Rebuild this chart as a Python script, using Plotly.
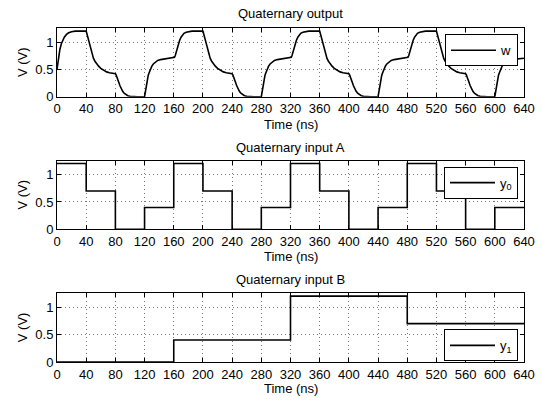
import plotly.graph_objects as go

# ---------------- data ----------------
# Quaternary output w: transition shapes (time offset in ns within a 40 ns slot, value in V)
r0_dt = [0, 1, 2, 3, 4, 6, 8, 10, 13, 16, 20, 25, 40]
r0_v  = [0.5, 0.62, 0.72, 0.80, 0.87, 0.97, 1.04, 1.09, 1.14, 1.17, 1.19, 1.2, 1.2]

f1_dt = [0, 1, 2, 3, 4, 5, 6, 8, 10, 12, 14, 17, 20, 24, 28, 32, 36, 40]
f1_v  = [1.2, 1.15, 1.08, 1.01, 0.95, 0.90, 0.85, 0.77, 0.70, 0.65, 0.61, 0.56, 0.52, 0.48, 0.455, 0.44, 0.425, 0.42]

f2_dt = [0, 1, 2, 3, 4, 5, 6, 8, 10, 12, 14, 17, 20, 25, 30, 40]
f2_v  = [0.42, 0.40, 0.37, 0.33, 0.29, 0.25, 0.21, 0.15, 0.10, 0.065, 0.04, 0.02, 0.008, 0.002, 0.0, 0.0]

r1_dt = [0, 1, 2, 3, 4, 5, 6, 8, 10, 12, 15, 18, 22, 27, 33, 40]
r1_v  = [0.0, 0.09, 0.18, 0.26, 0.33, 0.39, 0.43, 0.51, 0.56, 0.60, 0.64, 0.665, 0.68, 0.69, 0.70, 0.705]

r2_dt = [0, 1, 2, 3, 4, 5, 6, 8, 10, 12, 14, 17, 20, 25, 40]
r2_v  = [0.705, 0.72, 0.75, 0.80, 0.85, 0.90, 0.95, 1.03, 1.09, 1.13, 1.16, 1.18, 1.19, 1.2, 1.2]

w_slot_start = [0, 40, 80, 120, 160, 200, 240, 280, 320, 360, 400, 440, 480, 520, 560, 600]
w_slot_kind  = ["r0", "f1", "f2", "r1", "r2", "f1", "f2", "r1", "r2", "f1", "f2", "r1", "r2", "f1", "f2", "r1"]

# Quaternary inputs (step levels at the start of each slot)
a_t = [0, 40, 80, 120, 160, 200, 240, 280, 320, 360, 400, 440, 480, 520, 560, 600, 640]
a_v = [1.2, 0.7, 0, 0.4, 1.2, 0.7, 0, 0.4, 1.2, 0.7, 0, 0.4, 1.2, 0.7, 0, 0.4, 0.4]

b_t = [0, 160, 320, 480, 640]
b_v = [0, 0.4, 1.2, 0.7, 0.7]

x_ticks = list(range(0, 641, 40))
y_ticks = [0, 0.5, 1]
y_tick_labels = ["0", "0.5", "1"]

titles = ["Quaternary output", "Quaternary input A", "Quaternary input B"]
legend_names = ["w", "y<sub>0</sub>", "y<sub>1</sub>"]

# ---------------- build w ----------------
shapes = {"r0": (r0_dt, r0_v), "f1": (f1_dt, f1_v), "f2": (f2_dt, f2_v),
          "r1": (r1_dt, r1_v), "r2": (r2_dt, r2_v)}
w_t, w_v = [], []
for s, k in zip(w_slot_start, w_slot_kind):
    dts, vs = shapes[k]
    w_t += [s + d for d in dts]
    w_v += vs

# ---------------- figure ----------------
W, H = 542, 406
L, R = 57, 18
FONT = "Liberation Sans, Arial, Helvetica, sans-serif"
FS = 13

# pixel extents (top, bottom) of each axes box
boxes = [(29, 98.7), (164, 234), (299.3, 369.3)]
title_y = [14, 150, 285]
xlabel_y = [126.5, 261.5, 396.5]
legend_tops = [35, 170, 336]

fig = go.Figure()
series = [(w_t, w_v, "linear"), (a_t, a_v, "hv"), (b_t, b_v, "hv")]
for i, (xs, ys, shp) in enumerate(series):
    sfx = "" if i == 0 else str(i + 1)
    fig.add_trace(go.Scatter(
        x=xs, y=ys, mode="lines", name=legend_names[i],
        line=dict(color="black", width=1.6, shape=shp),
        xaxis="x" + sfx, yaxis="y" + sfx,
        legend="legend" + sfx, showlegend=True, hoverinfo="skip",
    ))

layout = dict(
    width=W, height=H,
    margin=dict(l=L, r=R, t=0, b=0),
    paper_bgcolor="white", plot_bgcolor="white",
    font=dict(family=FONT, size=FS, color="black"),
    annotations=[],
)

axis_common = dict(
    showline=True, linecolor="black", linewidth=1, mirror="allticks",
    ticks="inside", ticklen=4, tickwidth=1, tickcolor="black",
    showgrid=True, gridcolor="#777777", gridwidth=1, griddash="1px,3px",
    zeroline=False, tickfont=dict(family=FONT, size=FS, color="black"),
)

for i in range(3):
    sfx = "" if i == 0 else str(i + 1)
    top, bot = boxes[i]
    d0 = 1 - bot / H
    d1 = 1 - top / H
    layout["xaxis" + sfx] = dict(
        axis_common, domain=[0, 1], range=[0, 640],
        tickmode="array", tickvals=x_ticks, ticktext=[str(v) for v in x_ticks],
        anchor="y" + sfx,
    )
    layout["yaxis" + sfx] = dict(
        axis_common, domain=[d0, d1], range=[0, 1.25],
        tickmode="array", tickvals=y_ticks, ticktext=y_tick_labels,
        anchor="x" + sfx,
    )
    layout["legend" + sfx] = dict(
        x=(518 - L) / (W - L - R), xanchor="right",
        y=1 - legend_tops[i] / H, yanchor="top",
        bordercolor="black", borderwidth=1, bgcolor="white",
        font=dict(family=FONT, size=FS, color="black"),
        itemwidth=45, tracegroupgap=0,
    )
    cx = 0.5
    layout["annotations"] += [
        dict(text=titles[i], xref="paper", yref="paper", x=cx, y=1 - title_y[i] / H,
             xanchor="center", yanchor="middle", showarrow=False,
             font=dict(family=FONT, size=FS)),
        dict(text="Time (ns)", xref="paper", yref="paper", x=cx, y=1 - xlabel_y[i] / H,
             xanchor="center", yanchor="middle", showarrow=False,
             font=dict(family=FONT, size=FS)),
        dict(text="V (V)", xref="paper", yref="paper", x=(22.5 - L) / (W - L - R),
             y=1 - (top + bot) / 2 / H, textangle=-90,
             xanchor="center", yanchor="middle", showarrow=False,
             font=dict(family=FONT, size=FS)),
    ]

fig.update_layout(**layout)
fig.write_html("out.html",
               config={"displayModeBar": False},
               post_script="document.body.style.margin='0px';document.body.style.overflow='hidden';")
